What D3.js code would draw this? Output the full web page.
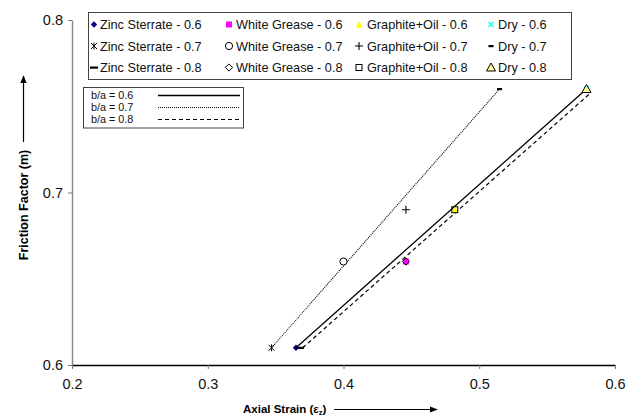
<!DOCTYPE html>
<html>
<head>
<meta charset="utf-8">
<script src="https://cdn.jsdelivr.net/npm/d3@7"></script>
<style>
  html, body { margin: 0; padding: 0; background: #fff; }
  svg { display: block; font-family: "Liberation Sans", Arial, sans-serif; }
</style>
</head>
<body>
<svg id="chart" width="635" height="418"></svg>
<script>
// Axis ticks
const xTicks = [0.2, 0.3, 0.4, 0.5, 0.6];
const yTicks = [0.6, 0.7, 0.8];

// Measured points: [axial strain, friction factor]
const zincSterrate06 = [[0.365, 0.61]];
const whiteGrease06  = [[0.446, 0.66]];
const graphiteOil06  = [[0.482, 0.69]];
const dry06          = [[0.579, 0.76]];
const zincSterrate07 = [[0.347, 0.61]];
const whiteGrease07  = [[0.400, 0.66]];
const graphiteOil07  = [[0.446, 0.69]];
const dry07          = [[0.515, 0.76]];
const zincSterrate08 = [[0.368, 0.61]];
const whiteGrease08  = [[0.446, 0.66]];
const graphiteOil08  = [[0.482, 0.69]];
const dry08          = [[0.579, 0.76]];

// Fitted lines for each b/a ratio
const fit06 = [[0.365, 0.61], [0.579, 0.76]];
const fit07 = [[0.347, 0.61], [0.515, 0.76]];
const fit08 = [[0.370, 0.61], [0.581, 0.757]];

const svg = d3.select("#chart");
const x = d3.scaleLinear().domain([0.2, 0.6]).range([72, 615]);
const y = d3.scaleLinear().domain([0.6, 0.8]).range([365, 20]);

// Marker drawers: each appends a shape centred at (0,0) into g
const mk = {
  diamondNavy: g => g.append("path").attr("d", "M0,-3.2L3.2,0L0,3.2L-3.2,0Z").attr("fill", "#000080"),
  squareMagenta: g => g.append("rect").attr("x", -3).attr("y", -3).attr("width", 6).attr("height", 6).attr("fill", "#ff00ff"),
  triYellow: g => g.append("path").attr("d", "M0,-3.5L3.5,3L-3.5,3Z").attr("fill", "#ffff00"),
  xCyan: g => g.append("path").attr("d", "M-2.5,-2.5L2.5,2.5M-2.5,2.5L2.5,-2.5").attr("stroke", "#00ffff").attr("stroke-width", 1.2),
  asterisk: g => g.append("path").attr("d", "M-3,-3L3,3M-3,3L3,-3M0,-3.5L0,3.5").attr("stroke", "#000").attr("stroke-width", 1),
  circleOpen: g => g.append("circle").attr("r", 3.6).attr("fill", "#fff").attr("stroke", "#000").attr("stroke-width", 1),
  plus: g => g.append("path").attr("d", "M-4,0L4,0M0,-4L0,4").attr("stroke", "#000").attr("stroke-width", 1.1),
  dashShort: g => g.append("rect").attr("x", -2.5).attr("y", -1).attr("width", 5).attr("height", 2.2).attr("fill", "#000"),
  dashLong: g => g.append("rect").attr("x", -4).attr("y", -1).attr("width", 8).attr("height", 2.2).attr("fill", "#000"),
  diamondOpen: g => g.append("path").attr("d", "M0,-3.6L3.6,0L0,3.6L-3.6,0Z").attr("fill", "none").attr("stroke", "#000").attr("stroke-width", 1),
  squareOpen: g => g.append("rect").attr("x", -3).attr("y", -3).attr("width", 6).attr("height", 6).attr("fill", "none").attr("stroke", "#000").attr("stroke-width", 1),
  triPale: g => g.append("path").attr("d", "M0,-4.5L4.5,3.5L-4.5,3.5Z").attr("fill", "#ffff99").attr("stroke", "#000").attr("stroke-width", 1)
};

const series = [
  { name: "Zinc Sterrate - 0.6", data: zincSterrate06, marker: "diamondNavy" },
  { name: "White Grease - 0.6",  data: whiteGrease06,  marker: "squareMagenta" },
  { name: "Graphite+Oil - 0.6",  data: graphiteOil06,  marker: "triYellow" },
  { name: "Dry - 0.6",           data: dry06,          marker: "xCyan" },
  { name: "Zinc Sterrate - 0.7", data: zincSterrate07, marker: "asterisk" },
  { name: "White Grease - 0.7",  data: whiteGrease07,  marker: "circleOpen" },
  { name: "Graphite+Oil - 0.7",  data: graphiteOil07,  marker: "plus" },
  { name: "Dry - 0.7",           data: dry07,          marker: "dashShort" },
  { name: "Zinc Sterrate - 0.8", data: zincSterrate08, marker: "dashLong" },
  { name: "White Grease - 0.8",  data: whiteGrease08,  marker: "diamondOpen" },
  { name: "Graphite+Oil - 0.8",  data: graphiteOil08,  marker: "squareOpen" },
  { name: "Dry - 0.8",           data: dry08,          marker: "triPale" }
];

const fits = [
  { name: "b/a = 0.6", data: fit06, dash: null,  width: 1.3 },
  { name: "b/a = 0.7", data: fit07, dash: "1,1", width: 1.1 },
  { name: "b/a = 0.8", data: fit08, dash: "4,3", width: 1.2 }
];

// Axes
const xAxis = d3.axisBottom(x).tickValues(xTicks).tickSize(4).tickSizeOuter(0).tickFormat(d3.format(".1f"));
const yAxis = d3.axisLeft(y).tickValues(yTicks).tickSize(4).tickSizeOuter(0).tickFormat(d3.format(".1f"));

const gy = svg.append("g").attr("transform", `translate(${x(0.2)},0)`).call(yAxis);
gy.select(".domain").attr("stroke", "#888").attr("stroke-width", 1.4);
gy.selectAll(".tick line").attr("stroke", "#777");
gy.selectAll(".tick text").attr("font-size", 14.5).attr("fill", "#111").attr("x", -9)
  .attr("font-family", "Liberation Sans, Arial, sans-serif");

const gx = svg.append("g").attr("transform", `translate(0,${y(0.6)})`).call(xAxis);
gx.select(".domain").attr("stroke", "#000").attr("stroke-width", 1.4);
gx.selectAll(".tick line").attr("stroke", "#777");
gx.selectAll(".tick text").attr("font-size", 14.5).attr("fill", "#111").attr("y", 14)
  .attr("font-family", "Liberation Sans, Arial, sans-serif");

// Fit lines
const line = d3.line().x(d => x(d[0])).y(d => y(d[1]));
svg.append("g").selectAll("path").data(fits).join("path")
  .attr("d", d => line(d.data))
  .attr("fill", "none").attr("stroke", "#000")
  .attr("stroke-width", d => d.width)
  .attr("stroke-dasharray", d => d.dash);

// Points, drawn so overlaid outlines stay visible
const drawOrder = ["xCyan", "squareMagenta", "triYellow", "diamondNavy", "asterisk", "circleOpen", "plus",
                   "dashShort", "dashLong", "diamondOpen", "squareOpen", "triPale"];
const ptLayer = svg.append("g");
drawOrder.forEach(m => {
  const s = series.find(v => v.marker === m);
  s.data.forEach(p => {
    const g = ptLayer.append("g").attr("transform", `translate(${x(p[0])},${y(p[1])})`);
    mk[m](g);
  });
});

// Series legend (3 rows x 4 columns)
const leg = svg.append("g");
leg.append("rect").attr("x", 88.5).attr("y", 12.5).attr("width", 483).attr("height", 67)
  .attr("fill", "#fff").attr("stroke", "#444").attr("stroke-width", 1);
const colMarkX = [94, 229, 359, 491];
const colTextX = [100, 236, 367, 498];
const rowY = [24.5, 46, 67.5];
series.forEach((s, i) => {
  const row = Math.floor(i / 4), col = i % 4;
  const g = leg.append("g").attr("transform", `translate(${colMarkX[col]},${rowY[row]})`);
  mk[s.marker](g);
  leg.append("text").attr("x", colTextX[col]).attr("y", rowY[row]).attr("dy", "0.36em")
    .attr("font-size", 12.7).attr("fill", "#111").text(s.name);
});

// Fit-line legend
const leg2 = svg.append("g");
leg2.append("rect").attr("x", 83.5).attr("y", 87.5).attr("width", 160).attr("height", 40.5)
  .attr("fill", "#fff").attr("stroke", "#444").attr("stroke-width", 1);
const fitRowY = [95.5, 107.5, 119.5];
fits.forEach((f, i) => {
  leg2.append("text").attr("x", 91).attr("y", fitRowY[i]).attr("dy", "0.36em")
    .attr("font-size", 10.8).attr("fill", "#111").text(f.name);
  leg2.append("line").attr("x1", 158).attr("x2", 240).attr("y1", fitRowY[i]).attr("y2", fitRowY[i])
    .attr("stroke", "#000").attr("stroke-width", f.width).attr("stroke-dasharray", f.dash);
});

// Axis titles with direction arrows
const defs = svg.append("defs");
defs.append("marker").attr("id", "arrowHead").attr("viewBox", "0 0 10 10")
  .attr("refX", 9).attr("refY", 5).attr("markerWidth", 8).attr("markerHeight", 8)
  .attr("markerUnits", "userSpaceOnUse").attr("orient", "auto")
  .append("path").attr("d", "M0,1L10,5L0,9Z").attr("fill", "#000");

const xt = svg.append("text").attr("x", 243).attr("y", 413)
  .attr("font-size", 11.5).attr("font-weight", "bold").attr("fill", "#000");
xt.append("tspan").text("Axial Strain (ε");
xt.append("tspan").attr("font-size", 7.5).attr("dy", 2).text("z");
xt.append("tspan").attr("dy", -2).text(")");
svg.append("line").attr("x1", 334).attr("x2", 437).attr("y1", 409.5).attr("y2", 409.5)
  .attr("stroke", "#000").attr("stroke-width", 1.2).attr("marker-end", "url(#arrowHead)");

svg.append("text").attr("transform", "translate(28,205) rotate(-90)")
  .attr("text-anchor", "middle").attr("font-size", 12.5).attr("font-weight", "bold").attr("fill", "#000")
  .text("Friction Factor (m)");
svg.append("line").attr("x1", 23.5).attr("x2", 23.5).attr("y1", 142).attr("y2", 76)
  .attr("stroke", "#000").attr("stroke-width", 1.2).attr("marker-end", "url(#arrowHead)");
</script>
</body>
</html>
